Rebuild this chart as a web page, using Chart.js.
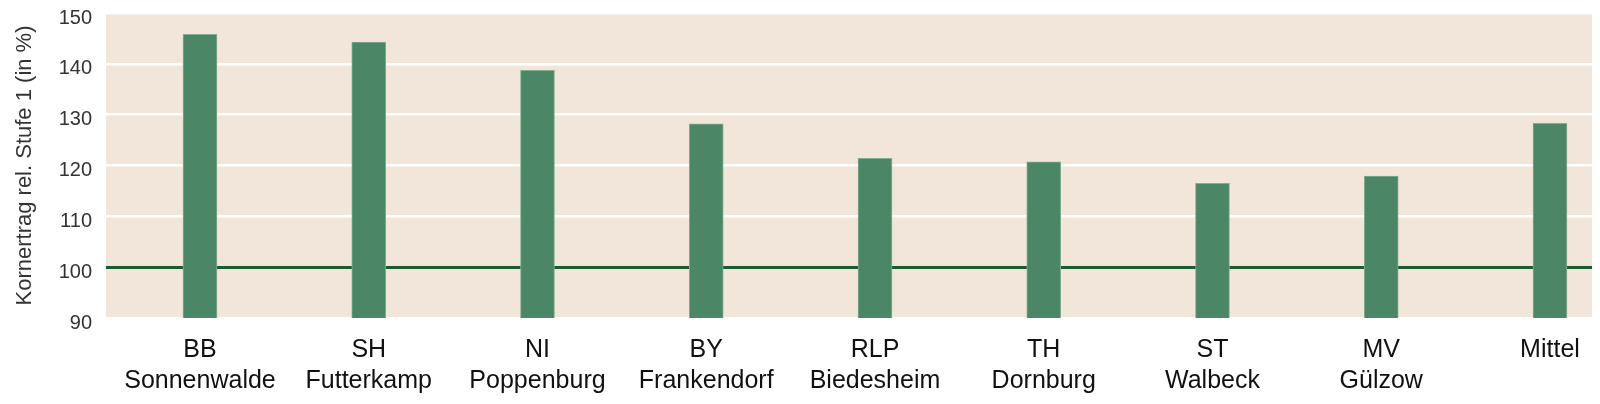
<!DOCTYPE html>
<html>
<head>
<meta charset="utf-8">
<script src="https://cdn.jsdelivr.net/npm/chart.js@4"></script>
<style>
  html, body { margin: 0; padding: 0; background: #ffffff; }
  #wrap { width: 1600px; height: 404px; position: relative; }
</style>
</head>
<body>
<div id="wrap"><canvas id="chart"></canvas></div>
<script>
// Standorte (Kurzzeichen + Ort)
const regions = ['BB', 'SH', 'NI', 'BY', 'RLP', 'TH', 'ST', 'MV', 'Mittel'];
const sites = ['Sonnenwalde', 'Futterkamp', 'Poppenburg', 'Frankendorf', 'Biedesheim', 'Dornburg', 'Walbeck', 'Gülzow', ''];

// Kornertrag relativ zu Stufe 1 (in %)
const yieldRel = [145.8, 144.3, 138.7, 128.2, 121.4, 120.7, 116.5, 117.9, 128.3];

const yTicks = [90, 100, 110, 120, 130, 140, 150];

// Hintergrund der Zeichenfläche
const plotBackground = {
  id: 'plotBackground',
  beforeDraw(chart) {
    const { ctx, chartArea } = chart;
    ctx.save();
    ctx.fillStyle = '#f2e6da';
    ctx.fillRect(chartArea.left, chartArea.top, chartArea.right - chartArea.left, chartArea.bottom - chartArea.top);
    ctx.restore();
  }
};

const ctx = document.getElementById('chart');

new Chart(ctx, {
  type: 'bar',
  data: {
    datasets: [{
      data: yieldRel.map((v, i) => ({ x: i, y: v })),
      backgroundColor: '#4b8767',
      borderColor: '#84ad92',
      borderWidth: 1,
      borderSkipped: 'bottom',
      barThickness: 34
    }]
  },
  options: {
    responsive: true,
    maintainAspectRatio: false,
    animation: false,
    layout: { padding: { top: 13, right: 8, left: 0, bottom: 0 } },
    plugins: {
      legend: { display: false },
      tooltip: { enabled: false }
    },
    scales: {
      x: {
        type: 'linear',
        offset: false,
        min: -0.557,
        max: 8.249,
        grid: { display: false },
        border: { display: false },
        afterBuildTicks(scale) {
          scale.ticks = regions.map((_, i) => ({ value: i }));
        },
        afterFit(scale) { scale.height = 86; },
        ticks: {
          padding: 9,
          color: '#111111',
          font: { family: "'Liberation Sans', Arial, sans-serif", size: 25, lineHeight: 1.24 },
          maxRotation: 0,
          autoSkip: false,
          callback(value) {
            const i = Math.round(value);
            return sites[i] ? [regions[i], sites[i]] : [regions[i]];
          }
        }
      },
      y: {
        min: 90,
        max: 150,
        afterBuildTicks(scale) {
          scale.ticks = yTicks.map(v => ({ value: v }));
        },
        afterFit(scale) {
          scale.width = 106;
          scale.paddingTop = 0;
          scale.paddingBottom = 0;
        },
        grid: {
          drawTicks: false,
          color: c => c.tick.value === 100 ? '#1c5a30' : '#ffffff',
          lineWidth: c => c.tick.value === 100 ? 3 : 2.5
        },
        border: { display: false },
        ticks: {
          padding: 14,
          labelOffset: 5,
          color: '#333333',
          font: { family: "'Liberation Sans', Arial, sans-serif", size: 20 }
        },
        title: {
          display: true,
          text: 'Kornertrag rel. Stufe 1 (in %)',
          color: '#333333',
          font: { family: "'Liberation Sans', Arial, sans-serif", size: 22 },
          padding: { top: 12, bottom: 0 }
        }
      }
    }
  },
  plugins: [plotBackground]
});
</script>
</body>
</html>
